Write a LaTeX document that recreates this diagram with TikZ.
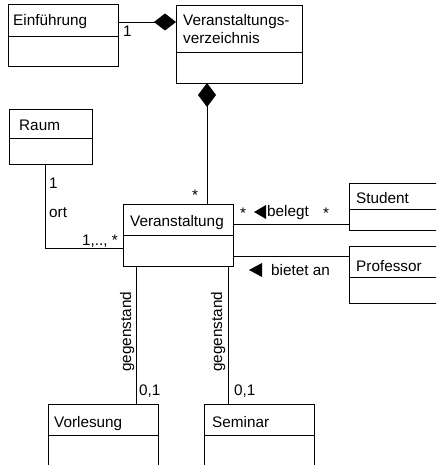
\documentclass[tikz,border=0pt]{standalone}
\usepackage{fontspec}
\setmainfont{Liberation Sans}
\usetikzlibrary{arrows.meta}
\begin{document}
\begin{tikzpicture}[x=1pt,y=-1pt,
  umlbox/.style={draw, line width=0.8pt, anchor=north west, inner sep=0pt, outer sep=0pt},
  cname/.style={anchor=base west, inner sep=0pt, font=\fontsize{15.3}{18}\selectfont},
  lbl/.style={anchor=base west, inner sep=0pt, font=\fontsize{15.3}{18}\selectfont},
  conn/.style={line width=0.8pt},
  comp/.style={conn, -{Diamond[length=22pt,width=17pt]}},
  tri/.style={fill=black}
]
\useasboundingbox (0,0) rectangle (436,465);
\clip (0,0) rectangle (436,465);

% boxes
\node[umlbox, minimum width=110pt, minimum height=62pt] (einf) at (8,4) {};
\draw[conn] (einf.west |- 0,36) -- (einf.east |- 0,36);
\node[cname] (einfT) at (13,26) {Einführung};

\node[umlbox, minimum width=126pt, minimum height=78pt] (verz) at (176,5) {};
\draw[conn] (verz.west |- 0,52) -- (verz.east |- 0,52);
\node[cname] (verzT1) at (183,26) {Veranstaltungs-};
\node[cname] (verzT2) at (183,44) {verzeichnis};

\node[umlbox, minimum width=83pt, minimum height=55pt] (raum) at (9,109) {};
\draw[conn] (raum.west |- 0,138) -- (raum.east |- 0,138);
\node[cname] (raumT) at (19,131) {Raum};

\node[umlbox, minimum width=110pt, minimum height=62pt] (va) at (123,204) {};
\draw[conn] (va.west |- 0,235) -- (va.east |- 0,235);
\node[cname] (vaT) at (130,226) {Veranstaltung};

\node[umlbox, minimum width=120pt, minimum height=47pt] (stud) at (349,183) {};
\draw[conn] (stud.west |- 0,209) -- (stud.east |- 0,209);
\node[cname] (studT) at (356,203) {Student};

\node[umlbox, minimum width=120pt, minimum height=57pt] (prof) at (349,246) {};
\draw[conn] (prof.west |- 0,277) -- (prof.east |- 0,277);
\node[cname] (profT) at (356,271) {Professor};

\node[umlbox, minimum width=110pt, minimum height=80pt] (vorl) at (48,404) {};
\draw[conn] (vorl.west |- 0,435) -- (vorl.east |- 0,435);
\node[cname] (vorlT) at (54,427) {Vorlesung};

\node[umlbox, minimum width=110pt, minimum height=80pt] (sem) at (204,404) {};
\draw[conn] (sem.west |- 0,435) -- (sem.east |- 0,435);
\node[cname] (semT) at (212,427) {Seminar};

% connectors
\draw[comp] (einf.east |- 0,22) -- (verz.west |- 0,22);
\node[lbl] (m1) at (123,37) {1};

\draw[conn, {Diamond[length=24pt,width=18pt]}-] (verz.south -| 207,0) -- (va.north -| 207,0);
\node[lbl] (m2) at (192,200) {*};

\draw[conn] (raum.south -| 45,0) -- (45,248) -- (va.west |- 0,248);
\node[lbl] (m3) at (49,188) {1};
\node[lbl] (m4) at (49,217) {ort};
\node[lbl] (m5) at (82,245) {1,.., *};

\draw[conn] (va.east |- 0,224) -- (stud.west |- 0,224);
\node[lbl] (m6) at (240,218) {*};
\fill[tri] (266,205) -- (266,219) -- (254,212) -- cycle;
\node[lbl] (belegt) at (267,216) {belegt};
\node[lbl] (m7) at (323,218) {*};

\draw[conn] (va.east |- 0,256) -- (prof.west |- 0,256);
\fill[tri] (262,263) -- (262,277) -- (249,270) -- cycle;
\node[lbl] (bietet) at (271,275) {bietet an};

\draw[conn] (va.south -| 136,0) -- (vorl.north -| 136,0);
\node[lbl, rotate=90] (g1) at (131,372) {gegenstand};
\node[lbl] (m8) at (139,395) {0,1};

\draw[conn] (va.south -| 228,0) -- (sem.north -| 228,0);
\node[lbl, rotate=90] (g2) at (222,372) {gegenstand};
\node[lbl] (m9) at (234,395) {0,1};
\end{tikzpicture}
\end{document}
